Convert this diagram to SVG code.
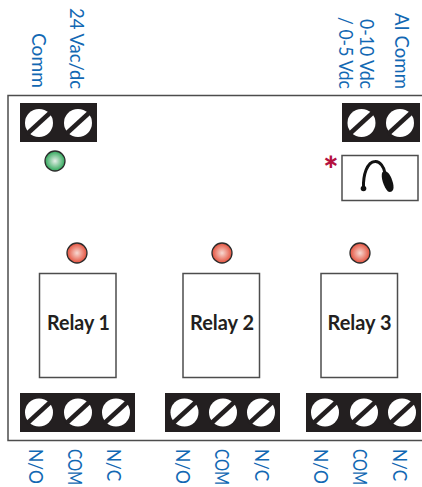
<svg xmlns="http://www.w3.org/2000/svg" width="422" height="487" viewBox="0 0 422 487">
<style>
.lbl{font-family:Lato,"Open Sans",sans-serif;font-size:20px;fill:#1268b3}
.blk{fill:#231f20}
.scr{fill:#fff}
.slot{stroke:#231f20;stroke-width:4.500;fill:none}
.box{fill:#fff;stroke:#4d4d4d;stroke-width:1.500}
.rl{font-family:Lato,"Open Sans",sans-serif;font-size:20px;font-weight:700;fill:#231f20;text-anchor:middle}
.led{stroke:#2b2b2b;stroke-width:1.300}
</style>
<defs>
<radialGradient id="r"><stop offset="0" stop-color="#f7d9d2"/><stop offset="1" stop-color="#e4503c"/></radialGradient>
<radialGradient id="g"><stop offset="0" stop-color="#e6eee8"/><stop offset="1" stop-color="#2fa85a"/></radialGradient>
<g id="screw"><circle class="scr" r="14"/><line class="slot" x1="-12" y1="11" x2="12" y2="-11"/></g>
</defs>
<rect id="board" x="8" y="95.500" width="420" height="345" fill="#fff" stroke="#4d4d4d" stroke-width="1.500"/>
<g id="t1"><rect class="blk" x="20" y="103" width="77" height="39"/><use href="#screw" x="39" y="123"/><use href="#screw" x="78" y="123"/></g>
<g id="t2"><rect class="blk" x="342" y="103" width="78" height="39"/><use href="#screw" x="361.500" y="123"/><use href="#screw" x="400" y="123"/></g>
<g id="t3"><rect class="blk" x="20" y="393" width="115" height="39"/><use href="#screw" x="39" y="412.500"/><use href="#screw" x="78" y="412.500"/><use href="#screw" x="116" y="412.500"/></g>
<g id="t4"><rect class="blk" x="165" y="393" width="115" height="39"/><use href="#screw" x="184.500" y="412.500"/><use href="#screw" x="223" y="412.500"/><use href="#screw" x="261" y="412.500"/></g>
<g id="t5"><rect class="blk" x="306" y="393" width="115" height="39"/><use href="#screw" x="325" y="412.500"/><use href="#screw" x="364" y="412.500"/><use href="#screw" x="402" y="412.500"/></g>
<g id="led0"><circle class="led" cx="55" cy="161" r="10" fill="url(#g)"/></g>
<g id="led1"><circle class="led" cx="77" cy="253" r="10" fill="url(#r)"/></g>
<g id="led2"><circle class="led" cx="222" cy="253" r="10" fill="url(#r)"/></g>
<g id="led3"><circle class="led" cx="360" cy="253" r="10" fill="url(#r)"/></g>
<g id="relay1"><rect class="box" x="39.500" y="273.500" width="76.500" height="104"/><text class="rl" x="78.500" y="330" textLength="63" lengthAdjust="spacingAndGlyphs">Relay 1</text></g>
<g id="relay2"><rect class="box" x="183" y="273.500" width="76.500" height="104"/><text class="rl" x="222" y="330" textLength="64" lengthAdjust="spacingAndGlyphs">Relay 2</text></g>
<g id="relay3"><rect class="box" x="321" y="273.500" width="76.500" height="104"/><text class="rl" x="359.500" y="330" textLength="64" lengthAdjust="spacingAndGlyphs">Relay 3</text></g>
<g id="jumper"><rect class="box" x="342" y="155.500" width="76" height="45"/>
<path d="M363.500 188C363 175 367 162 375 161.500C380 161 384 167 385 173" fill="none" stroke="#111" stroke-width="3"/><circle cx="363.500" cy="188.500" r="2.800" fill="#111"/>
<path d="M382.500 172C387 169 391 175 393 183C395 191 391 193 388 191.500C384 188 380 176 382.500 172Z" fill="#111"/></g>
<text id="star" x="331" y="183" text-anchor="middle" font-family="Lato,sans-serif" font-size="36" font-weight="900" fill="#b5123f">*</text>
<g id="labels">
<text class="lbl" transform="translate(32,33) rotate(90)" textLength="55" lengthAdjust="spacingAndGlyphs">Comm</text>
<text class="lbl" transform="translate(70,8) rotate(90)" textLength="81" lengthAdjust="spacingAndGlyphs">24 Vac/dc</text>
<text class="lbl" transform="translate(339,17) rotate(90)" textLength="72" lengthAdjust="spacingAndGlyphs">/ 0-5 Vdc</text>
<text class="lbl" transform="translate(360,19) rotate(90)" textLength="70" lengthAdjust="spacingAndGlyphs">0-10 Vdc</text>
<text class="lbl" transform="translate(395,13) rotate(90)" textLength="76" lengthAdjust="spacingAndGlyphs">AI Comm</text>
<text class="lbl" transform="translate(29,449) rotate(90) scale(.87,1)">N/O</text>
<text class="lbl" transform="translate(68,449) rotate(90) scale(.76,1)">COM</text>
<text class="lbl" transform="translate(107,449) rotate(90) scale(.86,1)">N/C</text>
<text class="lbl" transform="translate(176,449) rotate(90) scale(.87,1)">N/O</text>
<text class="lbl" transform="translate(215,449) rotate(90) scale(.76,1)">COM</text>
<text class="lbl" transform="translate(255,449) rotate(90) scale(.86,1)">N/C</text>
<text class="lbl" transform="translate(314,449) rotate(90) scale(.87,1)">N/O</text>
<text class="lbl" transform="translate(353,449) rotate(90) scale(.76,1)">COM</text>
<text class="lbl" transform="translate(393,449) rotate(90) scale(.86,1)">N/C</text>
</g>
</svg>
